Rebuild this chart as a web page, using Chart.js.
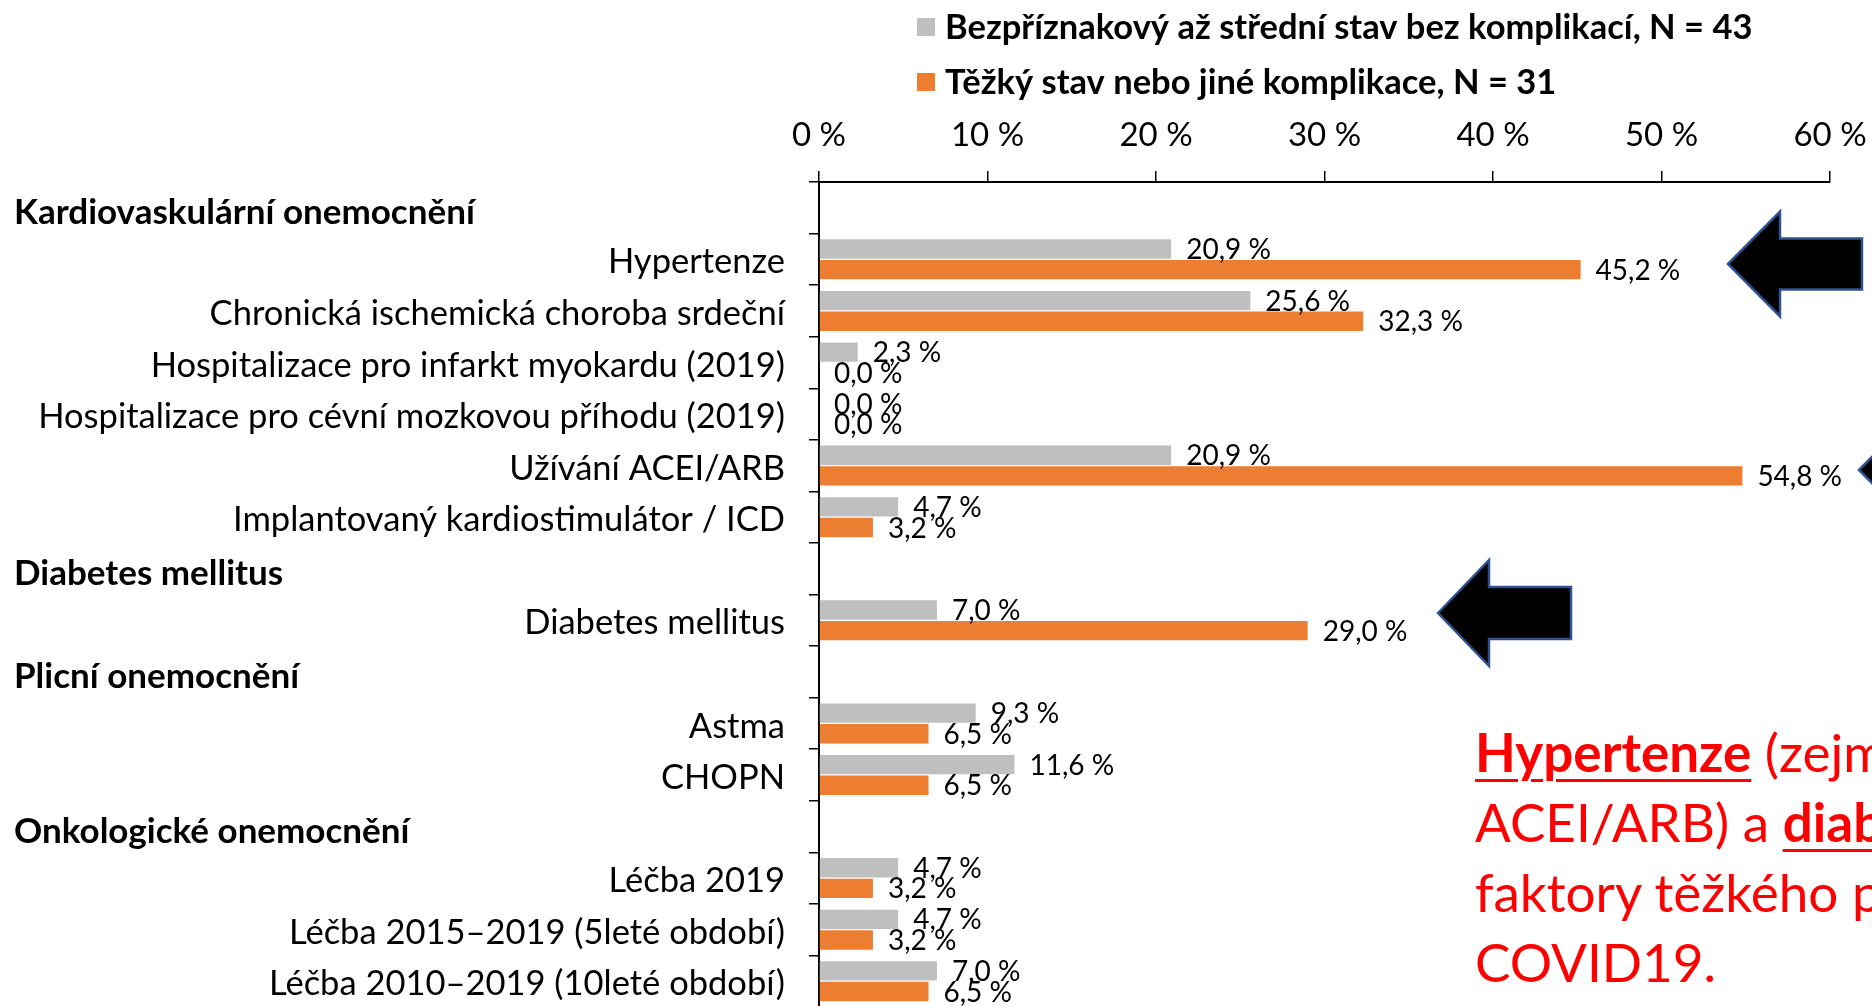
<!DOCTYPE html>
<html lang="cs">
<head>
<meta charset="utf-8">
<title>Rizikové faktory</title>
<script src="https://cdn.jsdelivr.net/npm/chart.js@4.4.1/dist/chart.umd.min.js"></script>
<style>
  html, body { margin: 0; padding: 0; background: #fff; overflow: hidden; }
  #wrap { position: relative; width: 1872px; height: 1006px; overflow: hidden; }
  #box { position: absolute; left: 0; top: 0; width: 1872px; height: 1007px; }
  #note {
    position: absolute; left: 1475px; top: 717px;
    font-family: Lato, sans-serif; font-size: 53px; line-height: 70px;
    color: #ff0000; white-space: nowrap;
  }
  #note b { text-decoration: underline; text-decoration-thickness: 3px; text-underline-offset: 7px; }
</style>
</head>
<body>
<div id="wrap">
  <div id="box"><canvas id="chart"></canvas></div>
  <div id="note">
    <b>Hypertenze</b> (zejména užívání<br>
    ACEI/ARB) a <b>diabetes</b> jsou rizikové<br>
    faktory těžkého průběhu<br>
    COVID19.
  </div>
</div>
<script>
// categories, top to bottom; group headers have no bars
const categories = [
  'Kardiovaskulární onemocnění',
  'Hypertenze',
  'Chronická ischemická choroba srdeční',
  'Hospitalizace pro infarkt myokardu (2019)',
  'Hospitalizace pro cévní mozkovou příhodu (2019)',
  'Užívání ACEI/ARB',
  'Implantovaný kardiostimulátor / ICD',
  'Diabetes mellitus',
  'Diabetes mellitus',
  'Plicní onemocnění',
  'Astma',
  'CHOPN',
  'Onkologické onemocnění',
  'Léčba 2019',
  'Léčba 2015–2019 (5leté období)',
  'Léčba 2010–2019 (10leté období)'
];
const headerRows = [0, 7, 9, 12];

const seriesNames = [
  'Bezpříznakový až střední stav bez komplikací, N = 43',
  'Těžký stav nebo jiné komplikace, N = 31'
];
// percent of patients
const mildValues   = [null, 20.9, 25.6, 2.3, 0.0, 20.9, 4.7, null, 7.0, null, 9.3, 11.6, null, 4.7, 4.7, 7.0];
const severeValues = [null, 45.2, 32.3, 0.0, 0.0, 54.8, 3.2, null, 29.0, null, 6.5, 6.5, null, 3.2, 3.2, 6.5];

const xTicks = [0, 10, 20, 30, 40, 50, 60];

const colors = ['#bfbfbf', '#ed7d31'];
const FONT = 'Lato';

function pct(v) {
  return v.toFixed(1).replace('.', ',') + ' %';
}

// value labels at the end of each bar
const valueLabels = {
  id: 'valueLabels',
  afterDatasetsDraw(chart) {
    const ctx = chart.ctx;
    ctx.save();
    ctx.font = '28px ' + FONT;
    ctx.fillStyle = '#000';
    ctx.textAlign = 'left';
    ctx.textBaseline = 'middle';
    chart.data.datasets.forEach((ds, di) => {
      chart.getDatasetMeta(di).data.forEach((bar, i) => {
        if (ds.data[i] === null) return;
        ctx.fillText(pct(ds.data[i]), bar.x + 15, bar.y + 1);
      });
    });
    ctx.restore();
  }
};

// bold group headers, left aligned
const groupHeaders = {
  id: 'groupHeaders',
  afterDraw(chart) {
    const ctx = chart.ctx, y = chart.scales.y;
    ctx.save();
    ctx.font = 'bold 35px ' + FONT;
    ctx.fillStyle = '#000';
    ctx.textAlign = 'left';
    ctx.textBaseline = 'middle';
    headerRows.forEach(i => {
      ctx.fillText(categories[i], 14, y.getPixelForValue(i) + 5);
    });
    ctx.restore();
  }
};

// legend stacked in one column
const stackedLegend = {
  id: 'stackedLegend',
  afterDraw(chart) {
    const ctx = chart.ctx;
    ctx.save();
    ctx.font = 'bold 34.5px ' + FONT;
    ctx.textAlign = 'left';
    ctx.textBaseline = 'middle';
    chart.data.datasets.forEach((ds, i) => {
      const top = 18 + i * 55;
      ctx.fillStyle = ds.backgroundColor;
      ctx.fillRect(917, top, 18, 18);
      ctx.fillStyle = '#000';
      ctx.fillText(ds.label, 945, top + 10);
    });
    ctx.restore();
  }
};

// black block arrows pointing left
function arrow(ctx, tipX, tipY, headX, headH, bodyH, endX) {
  ctx.beginPath();
  ctx.moveTo(tipX, tipY);
  ctx.lineTo(headX, tipY - headH / 2);
  ctx.lineTo(headX, tipY - bodyH / 2);
  ctx.lineTo(endX, tipY - bodyH / 2);
  ctx.lineTo(endX, tipY + bodyH / 2);
  ctx.lineTo(headX, tipY + bodyH / 2);
  ctx.lineTo(headX, tipY + headH / 2);
  ctx.closePath();
  ctx.fill();
  ctx.stroke();
}
const arrows = {
  id: 'arrows',
  afterDraw(chart) {
    const ctx = chart.ctx;
    ctx.save();
    ctx.fillStyle = '#000';
    ctx.strokeStyle = '#2f528f';
    ctx.lineWidth = 2.5;
    ctx.lineJoin = 'miter';
    arrow(ctx, 1728, 264, 1780, 105, 51, 1862);
    arrow(ctx, 1859, 470, 1911, 105, 51, 1993);
    arrow(ctx, 1438, 613, 1489, 106, 52, 1571);
    ctx.restore();
  }
};

function build() {
  new Chart(document.getElementById('chart'), {
    type: 'bar',
    data: {
      labels: categories,
      datasets: [
        { label: seriesNames[0], data: mildValues, backgroundColor: colors[0] },
        { label: seriesNames[1], data: severeValues, backgroundColor: colors[1] }
      ]
    },
    options: {
      indexAxis: 'y',
      responsive: true,
      maintainAspectRatio: false,
      animation: false,
      categoryPercentage: 0.8,
      barPercentage: 0.94,
      layout: { padding: { left: 0, right: 42, top: 0, bottom: 0 } },
      plugins: {
        legend: { display: false },
        tooltip: { enabled: false }
      },
      scales: {
        x: {
          position: 'top',
          min: xTicks[0],
          max: xTicks[xTicks.length - 1],
          afterBuildTicks: s => { s.ticks = xTicks.map(v => ({ value: v })); },
          afterFit: s => {
            s.height = 182;
            s.paddingLeft = 0;
            s.paddingRight = 0;
          },
          ticks: {
            callback: v => v + ' %',
            font: { family: FONT, size: 33 },
            color: '#000',
            padding: 16,
            maxRotation: 0
          },
          grid: { drawOnChartArea: false, tickLength: 11, color: '#000', lineWidth: 1.5 },
          border: { color: '#000', width: 2 }
        },
        y: {
          afterFit: s => {
            s.width = 819;
            s.paddingTop = 0;
            s.paddingBottom = 0;
          },
          ticks: {
            callback: (v, i) => headerRows.includes(i) ? '' : categories[i],
            font: { family: FONT, size: 34.5 },
            color: '#000',
            padding: 24,
            labelOffset: 3,
            autoSkip: false
          },
          grid: { drawOnChartArea: false, tickLength: 10, color: '#000', lineWidth: 1.5, offset: true },
          border: { color: '#000', width: 2 }
        }
      }
    },
    plugins: [valueLabels, groupHeaders, stackedLegend, arrows]
  });
}

Promise.all([
  document.fonts.load('34px Lato'),
  document.fonts.load('bold 34px Lato')
]).then(build, build);
</script>
</body>
</html>
